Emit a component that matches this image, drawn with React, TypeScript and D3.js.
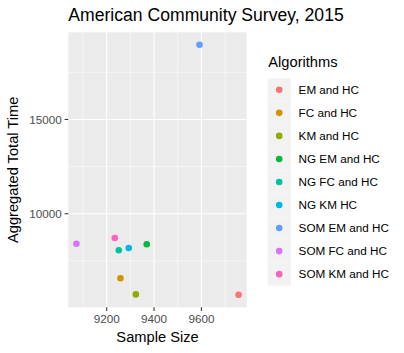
import React, { useEffect, useRef } from 'react'
import * as d3 from 'd3'

// data
const algorithms = [
  'EM and HC', 'FC and HC', 'KM and HC', 'NG EM and HC', 'NG FC and HC',
  'NG KM HC', 'SOM EM and HC', 'SOM FC and HC', 'SOM KM and HC',
]
const sampleSize = [9757, 9258, 9323, 9369, 9251, 9293, 9592, 9072, 9234]
const totalTime = [5700, 6580, 5720, 8380, 8060, 8185, 18960, 8410, 8715]
const xTicks = [9200, 9400, 9600]
const xMinor = [9100, 9300, 9500, 9700]
const yTicks = [10000, 15000]
const yMinor = [7500, 12500, 17500]
const colors = ['#F8766D', '#D39200', '#93AA00', '#00BA38', '#00C19F', '#00B9E3', '#619CFF', '#DB72FB', '#FF61C3']

const W = 404
const H = 353
const FONT = '"Liberation Sans", Arial, sans-serif'

function expand(vals: number[]): [number, number] {
  const [lo, hi] = d3.extent(vals) as [number, number]
  const pad = (hi - lo) * 0.05
  return [lo - pad, hi + pad]
}

export default function App() {
  const ref = useRef<SVGSVGElement>(null)

  useEffect(() => {
    document.body.style.margin = '0'
    const svg = d3.select(ref.current)
    svg.selectAll('*').remove()

    const panel = { left: 68.3, top: 32.3, right: 246.7, bottom: 307.3 }

    const x = d3.scaleLinear().domain(expand(sampleSize)).range([panel.left, panel.right])
    const y = d3.scaleLinear().domain(expand(totalTime)).range([panel.bottom, panel.top])
    const color = d3.scaleOrdinal<string, string>().domain(algorithms).range(colors)

    svg.append('rect').attr('width', W).attr('height', H).attr('fill', '#fff')

    // title
    svg.append('text')
      .attr('x', panel.left).attr('y', 20.5)
      .attr('font-size', 17.6).attr('fill', '#000')
      .text('American Community Survey, 2015')

    // panel
    svg.append('rect')
      .attr('x', panel.left).attr('y', panel.top)
      .attr('width', panel.right - panel.left).attr('height', panel.bottom - panel.top)
      .attr('fill', '#EBEBEB')

    const grid = svg.append('g').attr('stroke', '#fff')
    grid.selectAll('.xmin').data(xMinor).join('line')
      .attr('x1', d => x(d)).attr('x2', d => x(d))
      .attr('y1', panel.top).attr('y2', panel.bottom).attr('stroke-width', 0.53)
    grid.selectAll('.ymin').data(yMinor).join('line')
      .attr('y1', d => y(d)).attr('y2', d => y(d))
      .attr('x1', panel.left).attr('x2', panel.right).attr('stroke-width', 0.53)
    grid.selectAll('.xmaj').data(xTicks).join('line')
      .attr('x1', d => x(d)).attr('x2', d => x(d))
      .attr('y1', panel.top).attr('y2', panel.bottom).attr('stroke-width', 1.07)
    grid.selectAll('.ymaj').data(yTicks).join('line')
      .attr('y1', d => y(d)).attr('y2', d => y(d))
      .attr('x1', panel.left).attr('x2', panel.right).attr('stroke-width', 1.07)

    // points
    svg.append('g').selectAll('circle').data(algorithms).join('circle')
      .attr('cx', (d, i) => x(sampleSize[i]))
      .attr('cy', (d, i) => y(totalTime[i]))
      .attr('r', 3.3)
      .attr('fill', d => color(d))

    // x axis
    const xa = svg.append('g')
    xa.selectAll('line').data(xTicks).join('line')
      .attr('x1', d => x(d)).attr('x2', d => x(d))
      .attr('y1', panel.bottom).attr('y2', panel.bottom + 3.67)
      .attr('stroke', '#333').attr('stroke-width', 1.07)
    xa.selectAll('text').data(xTicks).join('text')
      .attr('x', d => x(d)).attr('y', panel.bottom + 16)
      .attr('text-anchor', 'middle').attr('font-size', 11.7).attr('fill', '#4D4D4D')
      .text(d => String(d))
    svg.append('text')
      .attr('x', (panel.left + panel.right) / 2).attr('y', 341.5)
      .attr('text-anchor', 'middle').attr('font-size', 14.67)
      .text('Sample Size')

    // y axis
    const ya = svg.append('g')
    ya.selectAll('line').data(yTicks).join('line')
      .attr('y1', d => y(d)).attr('y2', d => y(d))
      .attr('x1', panel.left - 3.67).attr('x2', panel.left)
      .attr('stroke', '#333').attr('stroke-width', 1.07)
    ya.selectAll('text').data(yTicks).join('text')
      .attr('x', panel.left - 6.6).attr('y', d => y(d) + 4.2)
      .attr('text-anchor', 'end').attr('font-size', 11.7).attr('fill', '#4D4D4D')
      .text(d => String(d))
    svg.append('text')
      .attr('transform', `translate(18,${(panel.top + panel.bottom) / 2}) rotate(-90)`)
      .attr('text-anchor', 'middle').attr('font-size', 14.67)
      .text('Aggregated Total Time')

    // legend
    const lg = svg.append('g').attr('transform', 'translate(267.7,78.3)')
    svg.append('text')
      .attr('x', 268.3).attr('y', 67)
      .attr('font-size', 14.67)
      .text('Algorithms')
    const key = lg.selectAll('g').data(algorithms).join('g')
      .attr('transform', (d, i) => `translate(0,${i * 23.04})`)
    key.append('rect')
      .attr('width', 23.04).attr('height', 23.04).attr('fill', '#F2F2F2')
    key.append('circle')
      .attr('cx', 11.52).attr('cy', 11.52).attr('r', 3.3)
      .attr('fill', d => color(d))
    key.append('text')
      .attr('x', 30.9).attr('y', 15.6)
      .attr('font-size', 11.7).attr('fill', '#000')
      .text(d => d)
  }, [])

  return (
    <svg ref={ref} width={W} height={H} style={{ display: 'block', fontFamily: FONT }} />
  )
}
